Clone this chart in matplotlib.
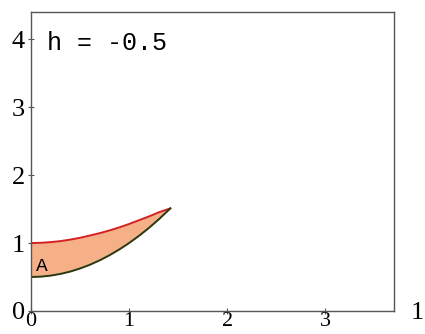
import matplotlib
matplotlib.use('Agg')
import matplotlib.pyplot as plt

# region boundary, sampled along x
x_vals = [0.0, 0.1, 0.2, 0.3, 0.4, 0.5, 0.6, 0.7, 0.8, 0.9, 1.0, 1.1, 1.2, 1.3, 1.42]
upper_y = [1.0, 1.003, 1.013, 1.028, 1.05, 1.077, 1.11, 1.145, 1.185, 1.23, 1.28, 1.335, 1.39, 1.45, 1.51]
lower_y = [0.5, 0.505, 0.52, 0.545, 0.58, 0.625, 0.68, 0.745, 0.82, 0.905, 1.0, 1.105, 1.22, 1.345, 1.51]

x_ticks = [0, 1, 2, 3]
y_ticks = [0, 1, 2, 3, 4]

fig = plt.figure(figsize=(4.25, 3.34), dpi=100)
ax = fig.add_axes([0.073, 0.069, 0.854, 0.895])

ax.fill_between(x_vals, lower_y, upper_y, color='#f5b088', lw=0)
ax.plot(x_vals, upper_y, color='#d42020', lw=1.4)
ax.plot(x_vals, lower_y, color='#2a3a10', lw=1.4)

ax.set_xlim(0, 3.7)
ax.set_ylim(0, 4.4)
ax.set_xticks(x_ticks)
ax.set_yticks(y_ticks)

serif = 'Liberation Serif'
ax.set_xticklabels([str(t) for t in x_ticks], family=serif, fontsize=16)
ax.set_yticklabels([str(t) for t in y_ticks], family=serif, fontsize=19)
ax.tick_params(axis='both', direction='inout', length=4, width=0.8, color='#555555')
ax.tick_params(axis='x', pad=-1)
ax.tick_params(axis='y', pad=2.5)

for s in ax.spines.values():
    s.set_color('#555555')
    s.set_linewidth(1.0)

ax.text(0.16, 3.95, 'h = -0.5', family='Liberation Mono', fontsize=18, va='center', ha='left')
ax.text(0.11, 0.65, 'A', family='Liberation Mono', fontsize=14, va='center', ha='center')
fig.text(0.981, 0.063, '1', family=serif, fontsize=19, ha='center', va='center')

fig.savefig('out.png', dpi=100)
